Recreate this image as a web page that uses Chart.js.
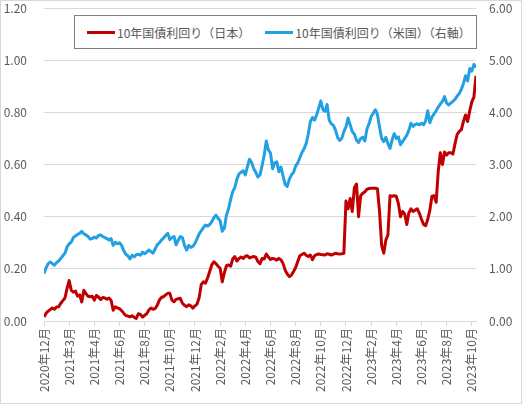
<!DOCTYPE html>
<html>
<head>
<meta charset="utf-8">
<script src="https://cdn.jsdelivr.net/npm/chart.js@4"></script>
<style>
  body { margin: 0; background: #fff; }
  #wrap { position: relative; width: 522px; height: 405px; font-family: "Noto Sans CJK JP", sans-serif; }
  #legend {
    position: absolute; left: 74px; top: 15px; width: 403px; height: 34px;
    box-sizing: border-box; border: 1px solid #7f7f7f; background: #fff;
    display: flex; align-items: center; font-size: 12px; color: #595959;
  }
  .item { display: flex; align-items: center; }
  .swatch { width: 28px; height: 3px; margin-right: 2px; }
</style>
</head>
<body>
<div id="wrap">
  <canvas id="myChart" width="522" height="405"></canvas>
  <div id="legend"></div>
</div>
<script>
// 軸ラベル（12点ごとに1つ）
const tickLabels = [
  "2020年12月", "2021年3月", "2021年4月", "2021年6月", "2021年8月", "2021年10月",
  "2021年12月", "2022年2月", "2022年4月", "2022年6月", "2022年8月", "2022年10月",
  "2022年12月", "2023年2月", "2023年4月", "2023年6月", "2023年8月", "2023年10月",
];
const pointsPerTick = 12;

const seriesNames = ["10年国債利回り（日本）", "10年国債利回り（米国）（右軸）"];
const seriesColors = ["#C00000", "#22A0E3"];

// 日本（左軸）
const japanYield = [
  0.015, 0.03, 0.038, 0.044, 0.05, 0.045, 0.054, 0.055, 0.068, 0.078,
  0.088, 0.125, 0.155, 0.118, 0.11, 0.115, 0.095, 0.10, 0.073, 0.118,
  0.105, 0.095, 0.093, 0.095, 0.08, 0.098, 0.092, 0.082, 0.09, 0.088,
  0.083, 0.088, 0.079, 0.041, 0.054, 0.05, 0.047, 0.04, 0.03, 0.021,
  0.019, 0.016, 0.02, 0.014, 0.01, 0.028, 0.025, 0.015, 0.022, 0.028,
  0.042, 0.05, 0.045, 0.048, 0.06, 0.08, 0.09, 0.093, 0.10, 0.106,
  0.106, 0.08, 0.074, 0.083, 0.085, 0.087, 0.068, 0.06, 0.055, 0.062,
  0.058, 0.049, 0.058, 0.065, 0.09, 0.14, 0.15, 0.145, 0.165, 0.19,
  0.215, 0.227, 0.22, 0.21, 0.202, 0.15, 0.185, 0.212, 0.215, 0.21,
  0.238, 0.247, 0.23, 0.24, 0.245, 0.24, 0.248, 0.25, 0.242, 0.245,
  0.247, 0.245, 0.228, 0.22, 0.24, 0.238, 0.257, 0.245, 0.236, 0.24,
  0.238, 0.233, 0.24, 0.235, 0.22, 0.195, 0.18, 0.17, 0.176, 0.19,
  0.205, 0.228, 0.25, 0.255, 0.26, 0.252, 0.247, 0.253, 0.235, 0.25,
  0.255, 0.257, 0.255, 0.254, 0.253, 0.258, 0.256, 0.253, 0.256, 0.26,
  0.258, 0.257, 0.258, 0.26, 0.46, 0.43, 0.47, 0.42, 0.51, 0.525,
  0.40, 0.48, 0.49, 0.495, 0.505, 0.508, 0.509, 0.509, 0.509, 0.507,
  0.42, 0.29, 0.26, 0.31, 0.33, 0.48, 0.478, 0.48, 0.478, 0.45,
  0.40, 0.42, 0.41, 0.37, 0.415, 0.43, 0.42, 0.425, 0.43, 0.413,
  0.39, 0.37, 0.365, 0.39, 0.425, 0.478, 0.48, 0.455, 0.575, 0.645,
  0.60, 0.648, 0.636, 0.645, 0.645, 0.64, 0.68, 0.715, 0.727, 0.733,
  0.765, 0.79, 0.765, 0.805, 0.84, 0.858, 0.94,
];

// 米国（右軸）
const usYield = [
  0.91, 1.02, 1.10, 1.13, 1.10, 1.07, 1.12, 1.15, 1.20, 1.25,
  1.30, 1.42, 1.48, 1.51, 1.60, 1.63, 1.66, 1.68, 1.72, 1.67,
  1.65, 1.62, 1.57, 1.58, 1.61, 1.59, 1.64, 1.65, 1.62, 1.60,
  1.58, 1.55, 1.58, 1.45, 1.51, 1.48, 1.50, 1.45, 1.35, 1.28,
  1.25, 1.19, 1.26, 1.23, 1.27, 1.28, 1.26, 1.32, 1.29, 1.32,
  1.36, 1.33, 1.30, 1.38, 1.46, 1.50, 1.55, 1.59, 1.64, 1.68,
  1.56, 1.60, 1.62, 1.46, 1.55, 1.62, 1.60, 1.45, 1.36, 1.45,
  1.41, 1.43, 1.49, 1.58, 1.67, 1.73, 1.79, 1.84, 1.82, 1.85,
  1.90, 1.98, 2.03, 1.97, 1.92, 1.72, 1.78, 2.03, 2.15, 2.33,
  2.48, 2.56, 2.72, 2.82, 2.85, 2.88, 2.80, 2.96, 3.10, 3.04,
  2.92, 2.85, 2.76, 2.80, 2.98, 3.18, 3.45, 3.28, 3.22, 2.92,
  3.03, 3.05, 2.86, 2.95, 2.78, 2.62, 2.58, 2.72, 2.80, 2.85,
  2.97, 3.03, 3.13, 3.23, 3.30, 3.40, 3.58, 3.82, 3.90, 3.85,
  3.95, 4.08, 4.22, 4.05, 4.02, 4.15, 3.85, 3.78, 3.75, 3.66,
  3.52, 3.46, 3.50, 3.63, 3.72, 3.89, 3.76, 3.63, 3.58, 3.47,
  3.42, 3.50, 3.52, 3.45, 3.68, 3.78, 3.92, 3.98, 4.05, 3.96,
  3.72, 3.50, 3.44, 3.52, 3.40, 3.31, 3.47, 3.59, 3.50, 3.53,
  3.38, 3.44, 3.50, 3.56, 3.66, 3.79, 3.73, 3.77, 3.78, 3.76,
  3.79, 3.76, 3.84, 4.03, 3.80, 3.91, 3.97, 4.03, 4.10, 4.16,
  4.21, 4.30, 4.18, 4.14, 4.18, 4.21, 4.25, 4.31, 4.36, 4.44,
  4.55, 4.70, 4.60, 4.84, 4.79, 4.92, 4.86,
];

const toXY = (arr) => arr.map((v, i) => ({ x: i, y: v }));

const legend = document.getElementById("legend");
seriesNames.forEach((name, i) => {
  const item = document.createElement("div");
  item.className = "item";
  item.style.marginLeft = i === 0 ? "12px" : "15px";
  const sw = document.createElement("span");
  sw.className = "swatch";
  sw.style.background = seriesColors[i];
  const txt = document.createElement("span");
  txt.textContent = name;
  item.appendChild(sw);
  item.appendChild(txt);
  legend.appendChild(item);
});

const frame = {
  id: "frame",
  afterDraw(chart) {
    const c = chart.ctx;
    c.save();
    c.strokeStyle = "#D9D9D9";
    c.lineWidth = 1;
    c.strokeRect(0.5, 0.5, 521, 403);
    c.restore();
  },
};

const tickFont = { family: "'Noto Sans CJK JP', sans-serif", size: 12 };
const lastIndex = japanYield.length - 1;

// 縦軸の幅と上下の余白を固定
const fixY = (width) => (axis) => {
  axis.width = width;
  axis.paddingTop = 8;
  axis.paddingBottom = 8;
};

const ctx = document.getElementById("myChart").getContext("2d");
const myChart = new Chart(ctx, {
  type: "line",
  data: {
    datasets: [
      {
        label: seriesNames[0],
        data: toXY(japanYield),
        yAxisID: "y",
        borderColor: seriesColors[0],
        borderWidth: 3,
        borderJoinStyle: "round",
        pointRadius: 0,
        tension: 0,
      },
      {
        label: seriesNames[1],
        data: toXY(usYield),
        yAxisID: "y1",
        borderColor: seriesColors[1],
        borderWidth: 3,
        borderJoinStyle: "round",
        pointRadius: 0,
        tension: 0,
      },
    ],
  },
  options: {
    responsive: false,
    animation: false,
    layout: { padding: 0 },
    plugins: { legend: { display: false }, tooltip: { enabled: false } },
    scales: {
      x: {
        type: "linear",
        min: 0,
        max: lastIndex,
        afterBuildTicks: (axis) => {
          axis.ticks = tickLabels.map((_, i) => ({ value: i * pointsPerTick }));
        },
        afterFit: (axis) => { axis.height = 84; },
        ticks: {
          callback: (v) => tickLabels[v / pointsPerTick] || "",
          autoSkip: false,
          maxRotation: 90,
          minRotation: 90,
          padding: 2,
          color: "#595959",
          font: tickFont,
        },
        grid: { drawOnChartArea: false, color: "#D9D9D9", tickLength: 5 },
        border: { color: "#D9D9D9" },
      },
      y: {
        position: "left",
        min: 0,
        max: 1.2,
        afterFit: fixY(44),
        ticks: {
          stepSize: 0.2,
          callback: (v) => v.toFixed(2),
          padding: 17,
          color: "#595959",
          font: tickFont,
        },
        grid: { color: "#D9D9D9", drawTicks: false },
        border: { display: false },
      },
      y1: {
        position: "right",
        min: 0,
        max: 6,
        afterFit: fixY(46),
        ticks: {
          stepSize: 1,
          callback: (v) => v.toFixed(2),
          padding: 13,
          color: "#595959",
          font: tickFont,
        },
        grid: { drawOnChartArea: false, drawTicks: false },
        border: { display: false },
      },
    },
  },
  plugins: [frame],
});
</script>
</body>
</html>
